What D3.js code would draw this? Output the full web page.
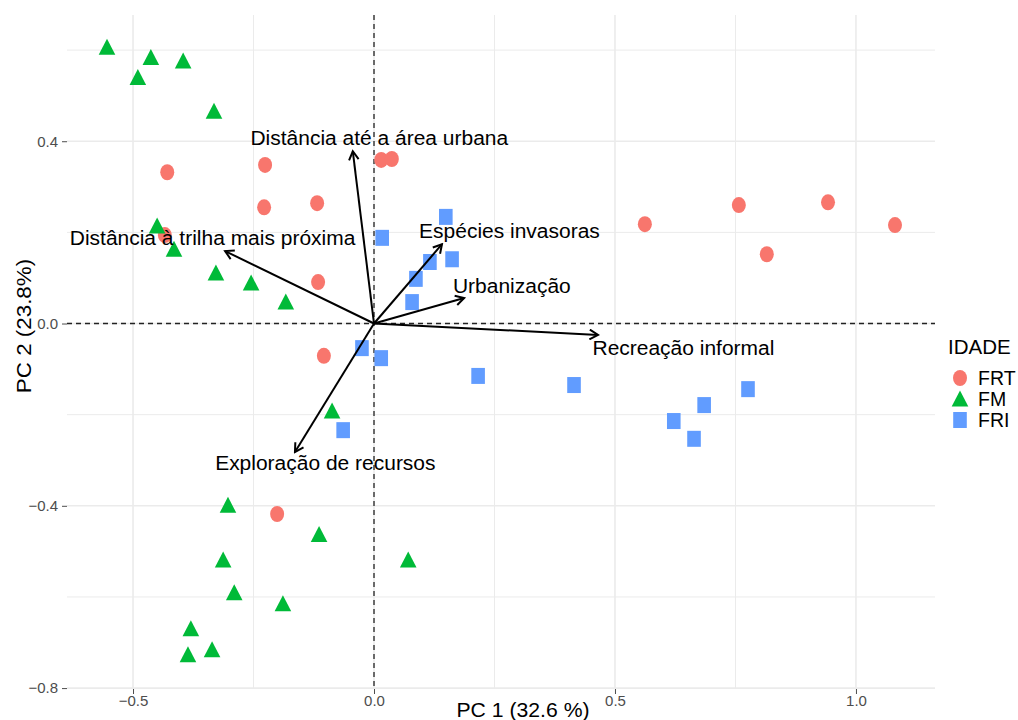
<!DOCTYPE html>
<html>
<head>
<meta charset="utf-8">
<script src="https://cdn.jsdelivr.net/npm/d3@7"></script>
<style>
  html, body { margin: 0; padding: 0; background: #ffffff; }
  svg { display: block; font-family: "Liberation Sans", Arial, Helvetica, sans-serif; }
</style>
</head>
<body>
<svg id="chart" width="1018" height="720"></svg>
<script>
// PCA scores per group (PC1, PC2)
const groups = ["FRT", "FM", "FRI"];
const groupColors = ["#F8766D", "#00BA38", "#619CFF"];

const frtScores = [
  [-0.429, 0.332], [-0.226, 0.348], [-0.228, 0.255], [-0.118, 0.264],
  [0.015, 0.359], [0.037, 0.361], [-0.434, 0.194], [-0.116, 0.091],
  [-0.104, -0.071], [-0.201, -0.418], [0.562, 0.218], [0.757, 0.260],
  [0.815, 0.152], [0.942, 0.266], [1.081, 0.216]
];
const fmScores = [
  [-0.554, 0.606], [-0.463, 0.584], [-0.490, 0.540], [-0.396, 0.576],
  [-0.332, 0.466], [-0.450, 0.214], [-0.415, 0.163], [-0.328, 0.111],
  [-0.255, 0.089], [-0.183, 0.047], [-0.087, -0.192], [-0.303, -0.399],
  [-0.114, -0.463], [0.071, -0.519], [-0.313, -0.519], [-0.290, -0.591],
  [-0.189, -0.615], [-0.380, -0.670], [-0.336, -0.716], [-0.386, -0.727]
];
const friScores = [
  [0.149, 0.234], [0.017, 0.188], [0.162, 0.141], [0.116, 0.135],
  [0.087, 0.098], [0.079, 0.047], [-0.025, -0.054], [0.015, -0.076],
  [-0.064, -0.234], [0.216, -0.115], [0.415, -0.135], [0.776, -0.144],
  [0.685, -0.179], [0.622, -0.214], [0.664, -0.253]
];

// Variable loadings (arrow tips) and where each name sits, in PC units
const variableNames = [
  "Distância até a área urbana",
  "Distância à trilha mais próxima",
  "Espécies invasoras",
  "Urbanização",
  "Recreação informal",
  "Exploração de recursos"
];
const loadings = [
  [-0.044, 0.378], [-0.309, 0.159], [0.141, 0.174],
  [0.187, 0.056], [0.465, -0.025], [-0.164, -0.282]
];
const nameAnchors = [
  [0.011, 0.391], [-0.335, 0.172], [0.281, 0.187],
  [0.286, 0.068], [0.642, -0.070], [-0.101, -0.321]
];

// Axis ticks
const xMajor = [-0.5, 0.0, 0.5, 1.0];
const xMinor = [-0.25, 0.25, 0.75];
const yMajor = [-0.8, -0.4, 0.0, 0.4];
const yMinor = [-0.6, -0.2, 0.2, 0.6];
const xTitle = "PC 1 (32.6 %)";
const yTitle = "PC 2 (23.8%)";
const legendTitle = "IDADE";

// ---------------------------------------------------------------
const svg = d3.select("#chart");
const panel = { left: 67, right: 935, top: 15, bottom: 689 };

const x = d3.scaleLinear().domain([-0.637, 1.164]).range([panel.left, panel.right]);
const y = d3.scaleLinear().domain([-0.802, 0.677]).range([panel.bottom, panel.top]);

const gridColor = "#ebebeb";

// minor grid
const grid = svg.append("g");
grid.selectAll(".vminor").data(xMinor).enter().append("line")
  .attr("x1", d => x(d)).attr("x2", d => x(d))
  .attr("y1", panel.top).attr("y2", panel.bottom)
  .attr("stroke", gridColor).attr("stroke-width", 1);
grid.selectAll(".hminor").data(yMinor).enter().append("line")
  .attr("y1", d => y(d)).attr("y2", d => y(d))
  .attr("x1", panel.left).attr("x2", panel.right)
  .attr("stroke", gridColor).attr("stroke-width", 1);
// major grid
grid.selectAll(".vmajor").data(xMajor).enter().append("line")
  .attr("x1", d => x(d)).attr("x2", d => x(d))
  .attr("y1", panel.top).attr("y2", panel.bottom)
  .attr("stroke", gridColor).attr("stroke-width", 1.6);
grid.selectAll(".hmajor").data(yMajor).enter().append("line")
  .attr("y1", d => y(d)).attr("y2", d => y(d))
  .attr("x1", panel.left).attr("x2", panel.right)
  .attr("stroke", gridColor).attr("stroke-width", 1.6);

// axes
const fmt = d3.format(".1f");
const xAxis = svg.append("g")
  .attr("transform", `translate(0,${panel.bottom})`)
  .call(d3.axisBottom(x).tickValues(xMajor).tickFormat(fmt).tickSize(5).tickPadding(1));
const yAxis = svg.append("g")
  .attr("transform", `translate(${panel.left},0)`)
  .call(d3.axisLeft(y).tickValues(yMajor).tickFormat(fmt).tickSize(5).tickPadding(4));
[xAxis, yAxis].forEach(a => {
  a.select(".domain").remove();
  a.selectAll(".tick line").attr("stroke", "#4d4d4d").attr("stroke-width", 1);
  a.selectAll(".tick text").attr("fill", "#4d4d4d")
    .style("font-size", "15px")
    .style("font-family", "'Liberation Sans', Arial, sans-serif");
});

// reference lines through the origin
const zero = svg.append("g").attr("stroke", "#222").attr("stroke-width", 1.3)
  .attr("stroke-dasharray", "5,4");
zero.append("line").attr("x1", x(0)).attr("x2", x(0))
  .attr("y1", panel.top).attr("y2", panel.bottom);
zero.append("line").attr("y1", y(0)).attr("y2", y(0))
  .attr("x1", panel.left).attr("x2", panel.right);

// point shapes
function drawShape(sel, shape, color) {
  if (shape === 0) {
    sel.append("ellipse").attr("rx", 7).attr("ry", 8).attr("fill", color);
  } else if (shape === 1) {
    sel.append("path").attr("d", "M0,-8.5L8.3,7.5L-8.3,7.5Z").attr("fill", color);
  } else {
    sel.append("rect").attr("x", -6.8).attr("y", -8).attr("width", 13.6).attr("height", 16)
      .attr("fill", color);
  }
}

const allScores = [frtScores, fmScores, friScores];
const pts = svg.append("g");
allScores.forEach((scores, gi) => {
  scores.forEach(d => {
    const g = pts.append("g").attr("transform", `translate(${x(d[0])},${y(d[1])})`);
    drawShape(g, gi, groupColors[gi]);
  });
});

// loading arrows
const defs = svg.append("defs");
defs.append("marker")
  .attr("id", "head")
  .attr("viewBox", "-10 -6 12 12")
  .attr("refX", 0).attr("refY", 0)
  .attr("markerWidth", 12).attr("markerHeight", 12)
  .attr("markerUnits", "userSpaceOnUse")
  .attr("orient", "auto")
  .append("path")
  .attr("d", "M-8.5,-4.8L0,0L-8.5,4.8")
  .attr("fill", "none").attr("stroke", "#000").attr("stroke-width", 2)
  .attr("stroke-linejoin", "miter");

svg.append("g").selectAll("line").data(loadings).enter().append("line")
  .attr("x1", x(0)).attr("y1", y(0))
  .attr("x2", d => x(d[0])).attr("y2", d => y(d[1]))
  .attr("stroke", "#000").attr("stroke-width", 2)
  .attr("marker-end", "url(#head)");

// variable names
svg.append("g").selectAll("text").data(variableNames).enter().append("text")
  .attr("transform", (d, i) => `translate(${x(nameAnchors[i][0])},${y(nameAnchors[i][1])}) scale(1.06,1)`)
  .attr("text-anchor", "middle")
  .attr("fill", "#000")
  .style("font-size", "19.8px")
  .text(d => d);

// axis titles
svg.append("text")
  .attr("transform", `translate(523,717) scale(1.06,1)`)
  .attr("text-anchor", "middle")
  .style("font-size", "20px")
  .attr("fill", "#000")
  .text(xTitle);
svg.append("text")
  .attr("transform", `translate(31,326) rotate(-90) scale(1.12,1)`)
  .attr("text-anchor", "middle")
  .style("font-size", "20px")
  .attr("fill", "#000")
  .text(yTitle);

// legend
const legend = svg.append("g");
legend.append("text")
  .attr("x", 948).attr("y", 353.5)
  .style("font-size", "20.5px")
  .attr("fill", "#000")
  .text(legendTitle);
const keyY = [378, 399, 420];
groups.forEach((name, i) => {
  const g = legend.append("g").attr("transform", `translate(960,${keyY[i]})`);
  drawShape(g, i, groupColors[i]);
  legend.append("text")
    .attr("x", 978).attr("y", keyY[i] + 7)
    .style("font-size", "19.5px")
    .attr("fill", "#000")
    .text(name);
});
</script>
</body>
</html>
